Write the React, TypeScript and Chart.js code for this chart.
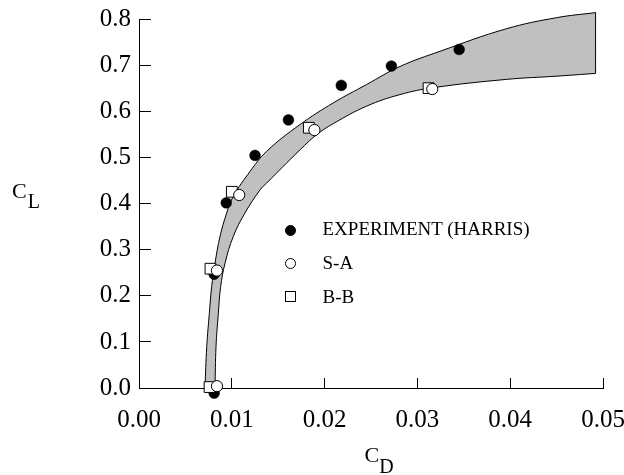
import { useEffect, useRef } from "react";
import { Chart, registerables } from "chart.js";

Chart.register(...registerables);

// Band (upper and lower boundary of the predicted range)
const upperCD = [0.00711, 0.0073, 0.00758, 0.00783, 0.00819, 0.00873, 0.00945, 0.01016, 0.01196, 0.01376, 0.01735, 0.02094, 0.02454, 0.02812, 0.03244, 0.0396, 0.045, 0.0492];
const upperCL = [0.0, 0.09, 0.162, 0.22, 0.271, 0.329, 0.38, 0.416, 0.47, 0.514, 0.572, 0.619, 0.659, 0.698, 0.731, 0.78, 0.804, 0.815];
const lowerCD = [0.00819, 0.0083, 0.00855, 0.0088, 0.00927, 0.01016, 0.01142, 0.01304, 0.01376, 0.01735, 0.01915, 0.02094, 0.02454, 0.02812, 0.03171, 0.0396, 0.045, 0.0492];
const lowerCL = [0.0, 0.09, 0.162, 0.22, 0.271, 0.329, 0.38, 0.43, 0.445, 0.517, 0.55, 0.574, 0.612, 0.637, 0.652, 0.67, 0.677, 0.683];

// Experiment (Harris)
const expCD = [0.0081, 0.0081, 0.0094, 0.0125, 0.0161, 0.0218, 0.0272, 0.0345];
const expCL = [-0.011, 0.247, 0.402, 0.505, 0.582, 0.657, 0.699, 0.735];
// S-A
const saCD = [0.0084, 0.0084, 0.0108, 0.0189, 0.0316];
const saCL = [0.004, 0.255, 0.419, 0.56, 0.649];
// B-B
const bbCD = [0.0076, 0.0077, 0.01, 0.0183, 0.0312];
const bbCL = [0.002, 0.259, 0.426, 0.565, 0.651];

const xTicks = [0, 0.01, 0.02, 0.03, 0.04, 0.05];
const yTicks = [0, 0.1, 0.2, 0.3, 0.4, 0.5, 0.6, 0.7, 0.8];
const legendLabels = ["EXPERIMENT (HARRIS)", "S-A", "B-B"];

const FONT = "'Liberation Serif', 'Times New Roman', serif";
const Y_AXIS_TOP = 0.8; // y axis line stops at last tick
const Y_VIEW_MAX = 0.8163; // room for the band above the last tick

function pts(xs: number[], ys: number[]) {
  return xs.map((x, i) => ({ x, y: ys[i] }));
}

export default function App() {
  const ref = useRef<HTMLCanvasElement | null>(null);

  useEffect(() => {
    if (!ref.current) return;
    const upper = pts(upperCD, upperCL);
    const lower = pts(lowerCD, lowerCL).reverse();
    // closed outline; corner points doubled so the spline keeps sharp corners
    const band = [
      ...upper,
      upper[upper.length - 1],
      lower[0],
      ...lower,
      lower[lower.length - 1],
      upper[0],
      upper[0],
    ].map((p) => ({ x: p.x, y: p.y }));

    const chart = new Chart(ref.current, {
      type: "scatter",
      data: {
        datasets: [
          {
            label: legendLabels[1],
            data: pts(saCD, saCL),
            pointStyle: "circle",
            pointRadius: 5.6,
            pointBackgroundColor: "#ffffff",
            pointBorderColor: "#000000",
            pointBorderWidth: 1,
            showLine: false,
            clip: false,
          },
          {
            label: legendLabels[2],
            data: pts(bbCD, bbCL),
            pointStyle: "rect",
            pointRadius: 7.6,
            pointBackgroundColor: "#ffffff",
            pointBorderColor: "#000000",
            pointBorderWidth: 1,
            showLine: false,
            clip: false,
          },
          {
            label: legendLabels[0],
            data: pts(expCD, expCL),
            pointStyle: "circle",
            pointRadius: 5.4,
            pointBackgroundColor: "#000000",
            pointBorderColor: "#000000",
            pointBorderWidth: 0.5,
            showLine: false,
            clip: false,
          },
          {
            label: "band",
            data: band,
            showLine: true,
            pointRadius: 0,
            borderColor: "#000000",
            borderWidth: 1,
            backgroundColor: "#c0c0c0",
            fill: "shape",
            tension: 0.4,
            clip: false,
          } as any,
        ],
      },
      options: {
        responsive: false,
        animation: false,
        devicePixelRatio: 1,
        layout: { padding: { left: 69, right: 21, top: 12, bottom: 27 } },
        plugins: {
          legend: { display: false },
          tooltip: { enabled: false },
          title: { display: false },
        },
        scales: {
          x: {
            type: "linear",
            min: 0,
            max: 0.05,
            afterBuildTicks: (s: any) => {
              s.ticks = xTicks.map((v) => ({ value: v }));
            },
            afterFit: (s: any) => {
              s.height = 60;
              s.paddingLeft = 0;
              s.paddingRight = 0;
            },
            ticks: {
              color: "#000000",
              font: { family: FONT, size: 25 },
              padding: 27,
              maxRotation: 0,
              autoSkip: false,
              callback: (v: any) => Number(v).toFixed(2),
            },
            grid: {
              // the line at C_D = 0 serves as the vertical axis line
              drawOnChartArea: true,
              drawTicks: true,
              tickLength: -10,
              color: (c: any) => (c.tick && c.tick.value === 0 ? "#000000" : "rgba(0,0,0,0)"),
              tickColor: "#000000",
              lineWidth: 1,
            },
            border: {
              display: true,
              color: "#000000",
              width: 1,
              dash: (c: any) => {
                const s = c.chart.scales.y;
                const gap = s.getPixelForValue(Y_AXIS_TOP) - s.top;
                return [3000, Math.max(gap, 0.001)];
              },
              dashOffset: 3000,
            },
          },
          y: {
            type: "linear",
            min: 0,
            max: Y_VIEW_MAX,
            afterBuildTicks: (s: any) => {
              s.ticks = yTicks.map((v) => ({ value: v }));
            },
            afterFit: (s: any) => {
              s.width = 70;
              s.paddingTop = 0;
              s.paddingBottom = 0;
            },
            ticks: {
              color: "#000000",
              font: { family: FONT, size: 25 },
              padding: 20,
              autoSkip: false,
              callback: (v: any) => Number(v).toFixed(1),
            },
            grid: {
              drawOnChartArea: false,
              drawTicks: true,
              tickLength: -12,
              color: "#000000",
              lineWidth: 1,
            },
            border: { display: false },
          },
        },
      } as any,
    });
    return () => chart.destroy();
  }, []);

  const textBase: any = {
    position: "absolute",
    fontFamily: FONT,
    lineHeight: 1,
    color: "#000",
    whiteSpace: "nowrap",
  };

  const rows = [
    { top: 219.1, marker: { borderRadius: "50%", background: "#000", border: "1px solid #000" }, cy: 230.5 },
    { top: 253.1, marker: { borderRadius: "50%", background: "#fff", border: "1px solid #000" }, cy: 263.5 },
    { top: 286.6, marker: { borderRadius: 0, background: "#fff", border: "1px solid #000" }, cy: 296.3 },
  ];

  return (
    <div style={{ position: "absolute", left: 0, top: 0, width: 624, height: 475, background: "#fff" }}>
      <canvas ref={ref} width={624} height={475} style={{ display: "block" }} />
      <div style={{ ...textBase, left: 12, top: 179.6, fontSize: 22 }}>
        C<span style={{ fontSize: 20, position: "relative", top: 10, marginLeft: 1 }}>L</span>
      </div>
      <div style={{ ...textBase, left: 364.5, top: 443.6, fontSize: 22 }}>
        C<span style={{ fontSize: 20, position: "relative", top: 11 }}>D</span>
      </div>
      {rows.map((r, i) => (
        <div key={i}>
          <div
            style={{
              position: "absolute",
              left: 290.7 - 5.5,
              top: r.cy - 5.5,
              width: 11,
              height: 11,
              boxSizing: "border-box",
              ...r.marker,
            }}
          />
          <div style={{ ...textBase, left: 322.5, top: r.top, fontSize: 19 }}>{legendLabels[i]}</div>
        </div>
      ))}
    </div>
  );
}
